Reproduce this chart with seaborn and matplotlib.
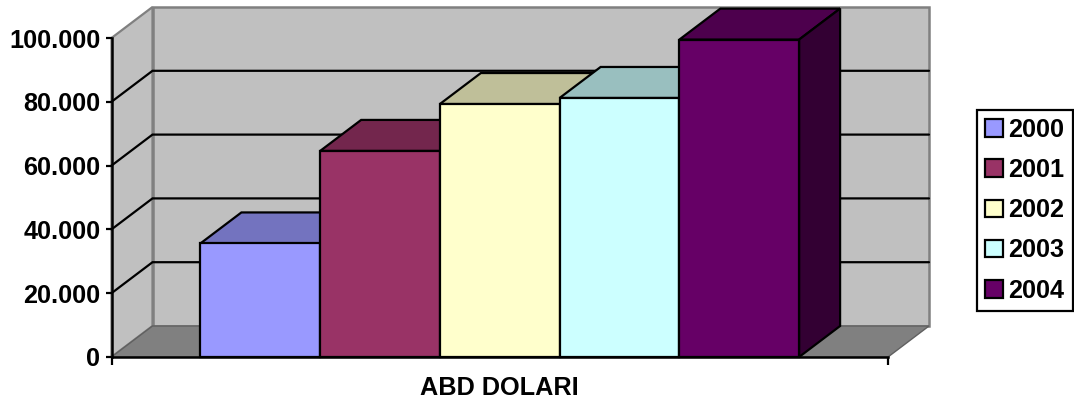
"""Pseudo-3D column chart of yearly values in the style of a spreadsheet chart."""
import matplotlib
matplotlib.use("Agg")
import matplotlib.pyplot as plt
import pandas as pd
import seaborn as sns
from matplotlib.colors import to_rgb
from matplotlib.patches import Polygon
from matplotlib.ticker import FuncFormatter

years = ["2000", "2001", "2002", "2003", "2004"]
values = [35600, 64600, 79300, 81200, 99500]
colors = ["#9999FF", "#993366", "#FFFFCC", "#CCFFFF", "#660066"]
category = "ABD DOLARI"
y_ticks = [0, 20000, 40000, 60000, 80000, 100000]

WALL = "#C0C0C0"
FLOOR = "#808080"
LW = 1.6
FONT_SIZE = 18.2

sns.set_style("white")
plt.rcParams["font.family"] = ["Liberation Sans", "DejaVu Sans"]
plt.rcParams["font.weight"] = "bold"
plt.rcParams["text.color"] = "black"
plt.rcParams["axes.labelcolor"] = "black"
plt.rcParams["xtick.color"] = "black"
plt.rcParams["ytick.color"] = "black"

df = pd.DataFrame({"category": category, "year": years, "value": values})

fig = plt.figure(figsize=(10.74, 4.01), dpi=100)
ax = fig.add_axes([111.5 / 1074, 44 / 401, 776.5 / 1074, 319 / 401])

sns.barplot(
    data=df, x="category", y="value", hue="year", hue_order=years,
    palette=colors, width=0.771, saturation=1, edgecolor="black",
    linewidth=LW, ax=ax,
)

x0, x1 = -0.5, 0.5
y_top = y_ticks[-1]
ax.set_xlim(x0, x1)
ax.set_ylim(0, y_top)
dx = 41 / 776.5   # depth of the fake 3D box, in data units
dy = 31 / 319 * y_top


def face(points, color, edge="black", z=1, lw=LW):
    ax.add_patch(Polygon(points, closed=True, facecolor=color, edgecolor=edge,
                         linewidth=lw, zorder=z, clip_on=False, joinstyle="miter"))


def shade(color, k):
    return tuple(c * k for c in to_rgb(color))


# walls and floor
face([(x0, 0), (x0 + dx, dy), (x0 + dx, y_top + dy), (x0, y_top)], WALL, FLOOR, 0.5, 1.6)
face([(x0 + dx, dy), (x1 + dx, dy), (x1 + dx, y_top + dy), (x0 + dx, y_top + dy)], WALL, FLOOR, 0.6, 1.8)
face([(x0, 0), (x1, 0), (x1 + dx, dy), (x0 + dx, dy)], FLOOR, "#606060", 0.7, 1.0)

# gridlines along side wall and back wall
for tick in y_ticks[1:-1]:
    ax.plot([x0, x0 + dx, x1 + dx], [tick, tick + dy, tick + dy], color="black",
            lw=LW, zorder=0.8, clip_on=False, solid_joinstyle="miter")

# bars: each one drawn over the previous so the hidden faces stay hidden
for i, (container, color) in enumerate(zip(ax.containers, colors)):
    bar = container[0]
    z = 3 + i
    bar.set_zorder(z + 0.2)
    bar.set_clip_on(False)
    left = bar.get_x()
    right = left + bar.get_width()
    h = bar.get_height()
    face([(left, h), (right, h), (right + dx, h + dy), (left + dx, h + dy)], shade(color, 0.75), z=z)
    face([(right, 0), (right + dx, dy), (right + dx, h + dy), (right, h)], shade(color, 0.5), z=z)

ax.yaxis.set_major_formatter(FuncFormatter(lambda v, _: f"{v:,.0f}".replace(",", ".")))
ax.set_yticks(y_ticks)
ax.set_xticks([x0, x1], ["", ""])
ax.tick_params(axis="y", direction="out", length=4.5, width=LW, labelsize=FONT_SIZE, pad=3.5, left=True)
ax.tick_params(axis="x", direction="out", length=5.5, width=LW, bottom=True)
ax.set_ylabel("")
ax.set_xlabel(category, fontsize=FONT_SIZE, fontweight="bold", labelpad=4.5)

for side in ["top", "right"]:
    ax.spines[side].set_visible(False)
for side in ["left", "bottom"]:
    ax.spines[side].set_color("black")
    ax.spines[side].set_linewidth(LW + 0.2)
    ax.spines[side].set_zorder(20)

sns.move_legend(
    ax, loc="upper left", bbox_to_anchor=(977 / 1074, 1 - 109.5 / 401),
    bbox_transform=fig.transFigure, title=None, fontsize=FONT_SIZE, frameon=True,
    fancybox=False, framealpha=1, edgecolor="black", borderpad=0.33, borderaxespad=0,
    handlelength=0.7, handleheight=0.7, handletextpad=0.2, labelspacing=0.64,
)
ax.get_legend().get_frame().set_linewidth(LW)

fig.savefig("out.png", dpi=100)
